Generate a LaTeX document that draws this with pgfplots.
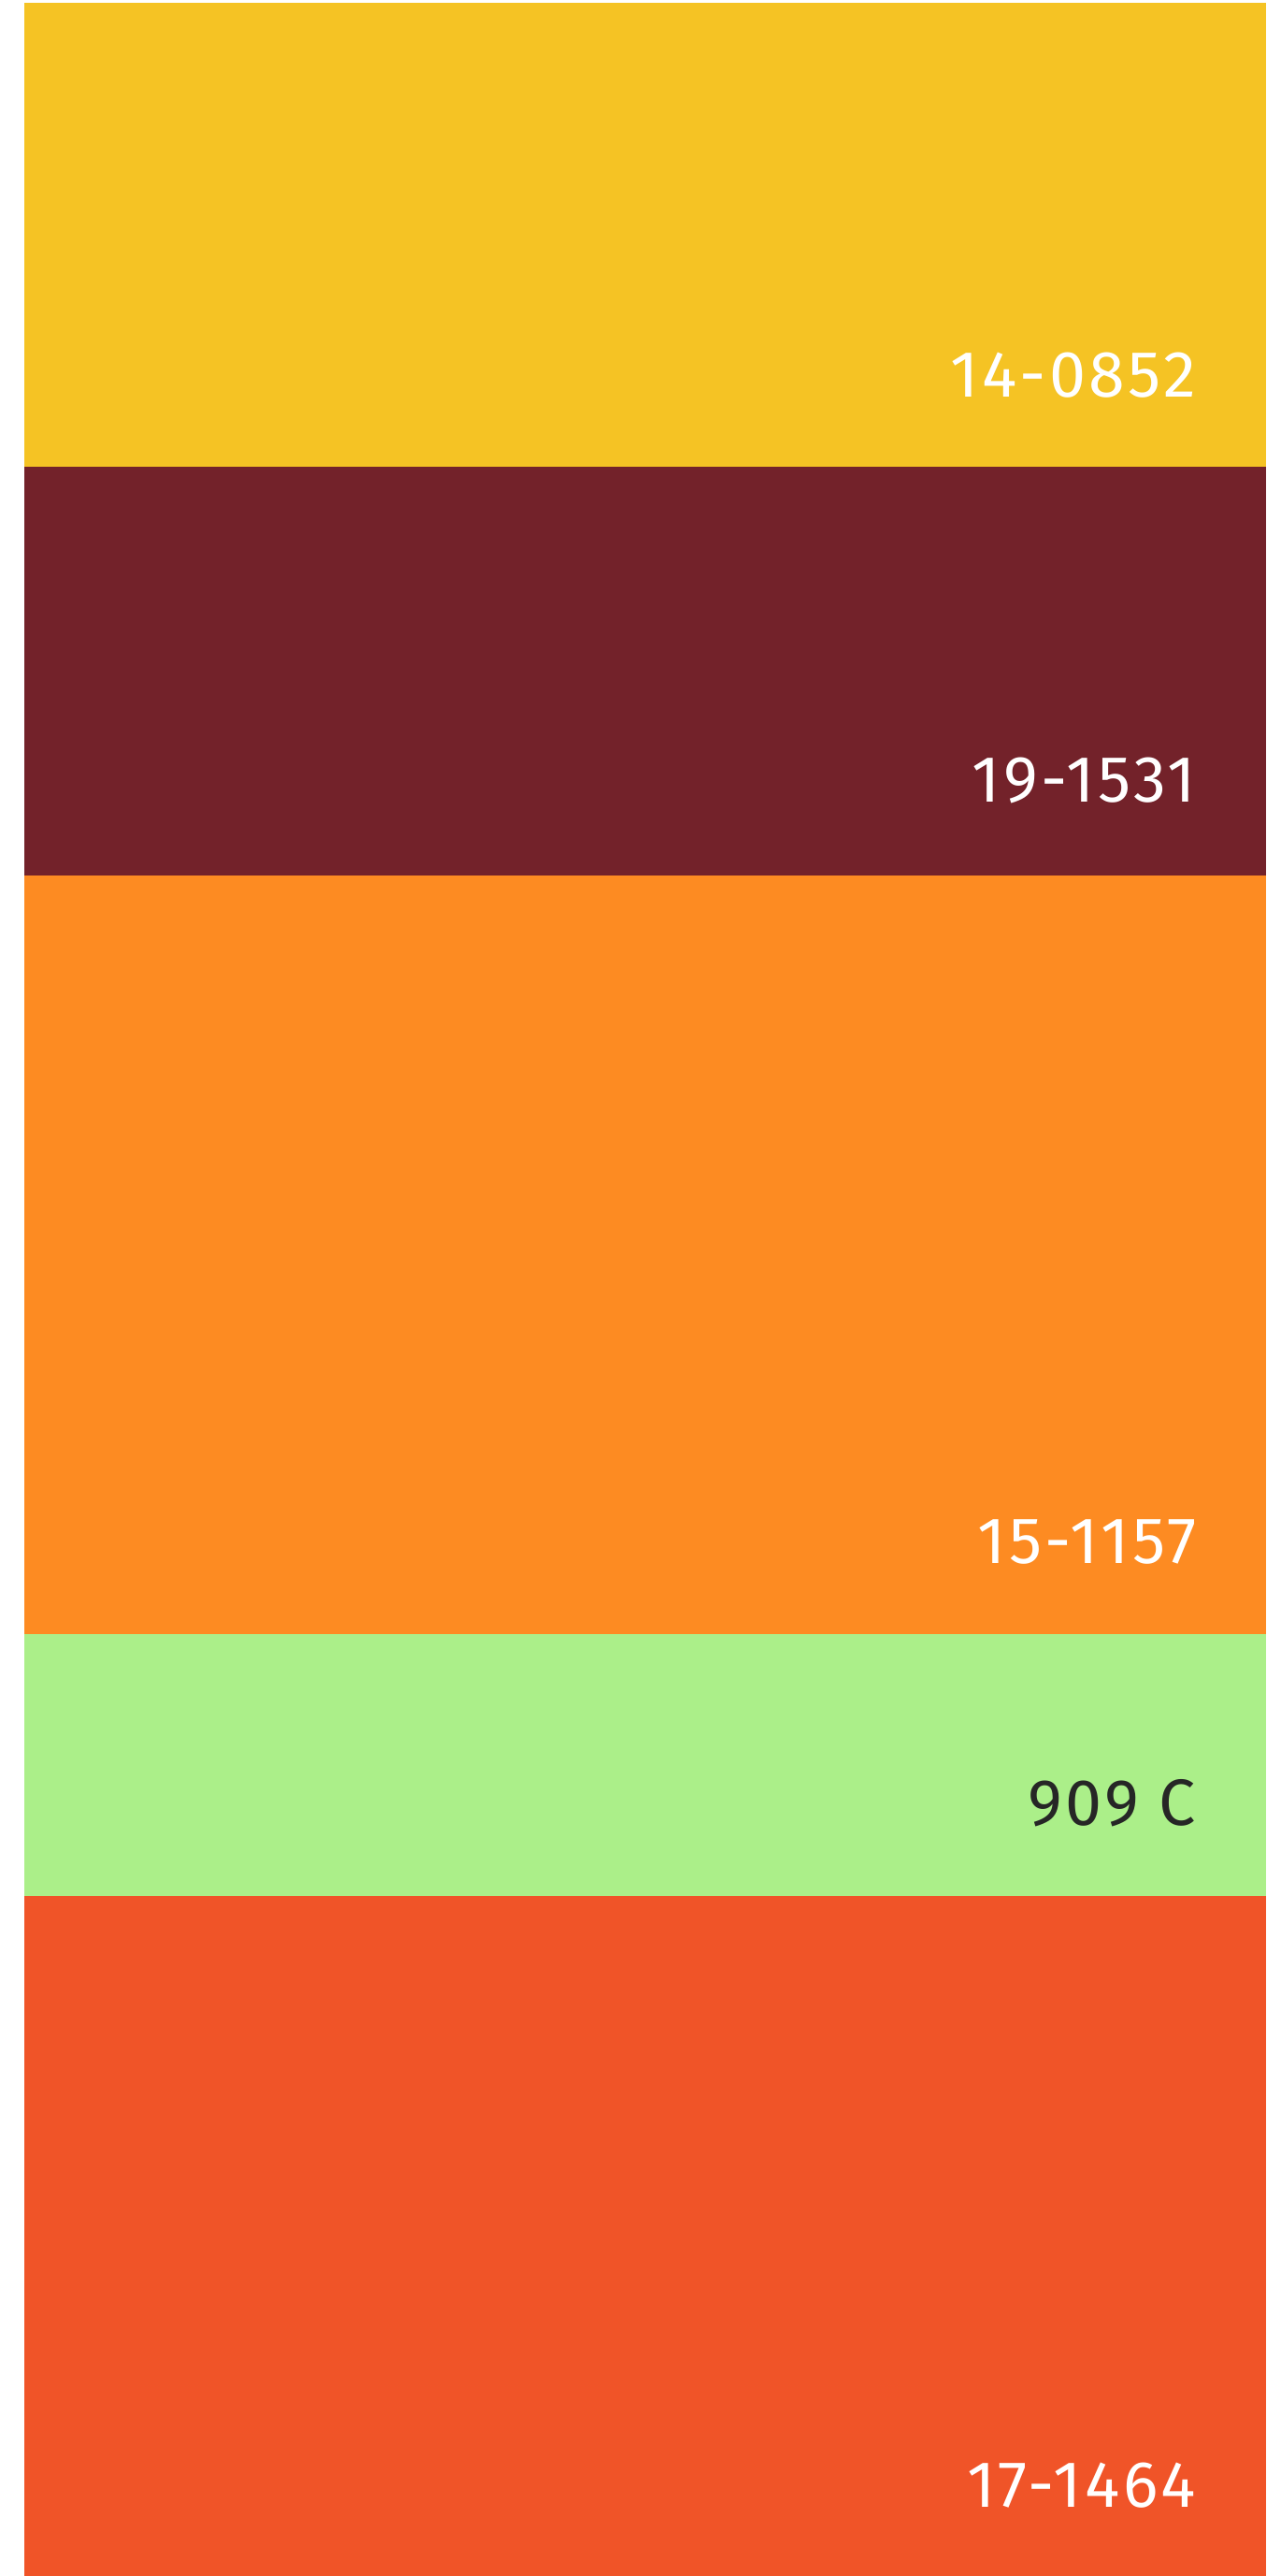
\documentclass[border=0pt]{standalone}
\usepackage{fontspec}
\setmainfont{Fira Sans}[LetterSpace=5]
\usepackage{pgfplots}
\pgfplotsset{compat=1.18}
\definecolor{cyellow}{HTML}{F5C324}
\definecolor{cmaroon}{HTML}{73222A}
\definecolor{corange}{HTML}{FD8B22}
\definecolor{cgreen}{HTML}{ABEF89}
\definecolor{cred}{HTML}{F05428}
\tikzset{labelnode/.style={anchor=base east, text=white, inner sep=0pt, font=\fontsize{17.5}{20}\selectfont}}
\begin{document}
\begin{tikzpicture}
\fill[white] (0,0) rectangle (338.5pt,688.5pt);
\begin{axis}[
  at={(0,0)}, anchor=south west,
  hide axis, scale only axis,
  width=338.5pt, height=688.5pt,
  xmin=0, xmax=1354, ymin=0, ymax=2754,
  ybar stacked, bar width=1328,
  clip=false,
]
\addplot[fill=cred, draw=none] coordinates {(690,727)};
\addplot[fill=cgreen, draw=none] coordinates {(690,280)};
\addplot[fill=corange, draw=none] coordinates {(690,811)};
\addplot[fill=cmaroon, draw=none] coordinates {(690,437)};
\addplot[fill=cyellow, draw=none] coordinates {(690,496)};
\coordinate (l1) at (axis cs:1280,2329);
\coordinate (l2) at (axis cs:1280,1896);
\coordinate (l3) at (axis cs:1280,1082);
\coordinate (l4) at (axis cs:1280,802);
\coordinate (l5) at (axis cs:1280,73);
\end{axis}
\node[labelnode] at (l1) {14-0852};
\node[labelnode] at (l2) {19-1531};
\node[labelnode] at (l3) {15-1157};
\node[labelnode, text=black!85] at (l4) {909 C};
\node[labelnode] at (l5) {17-1464};
\end{tikzpicture}
\end{document}
